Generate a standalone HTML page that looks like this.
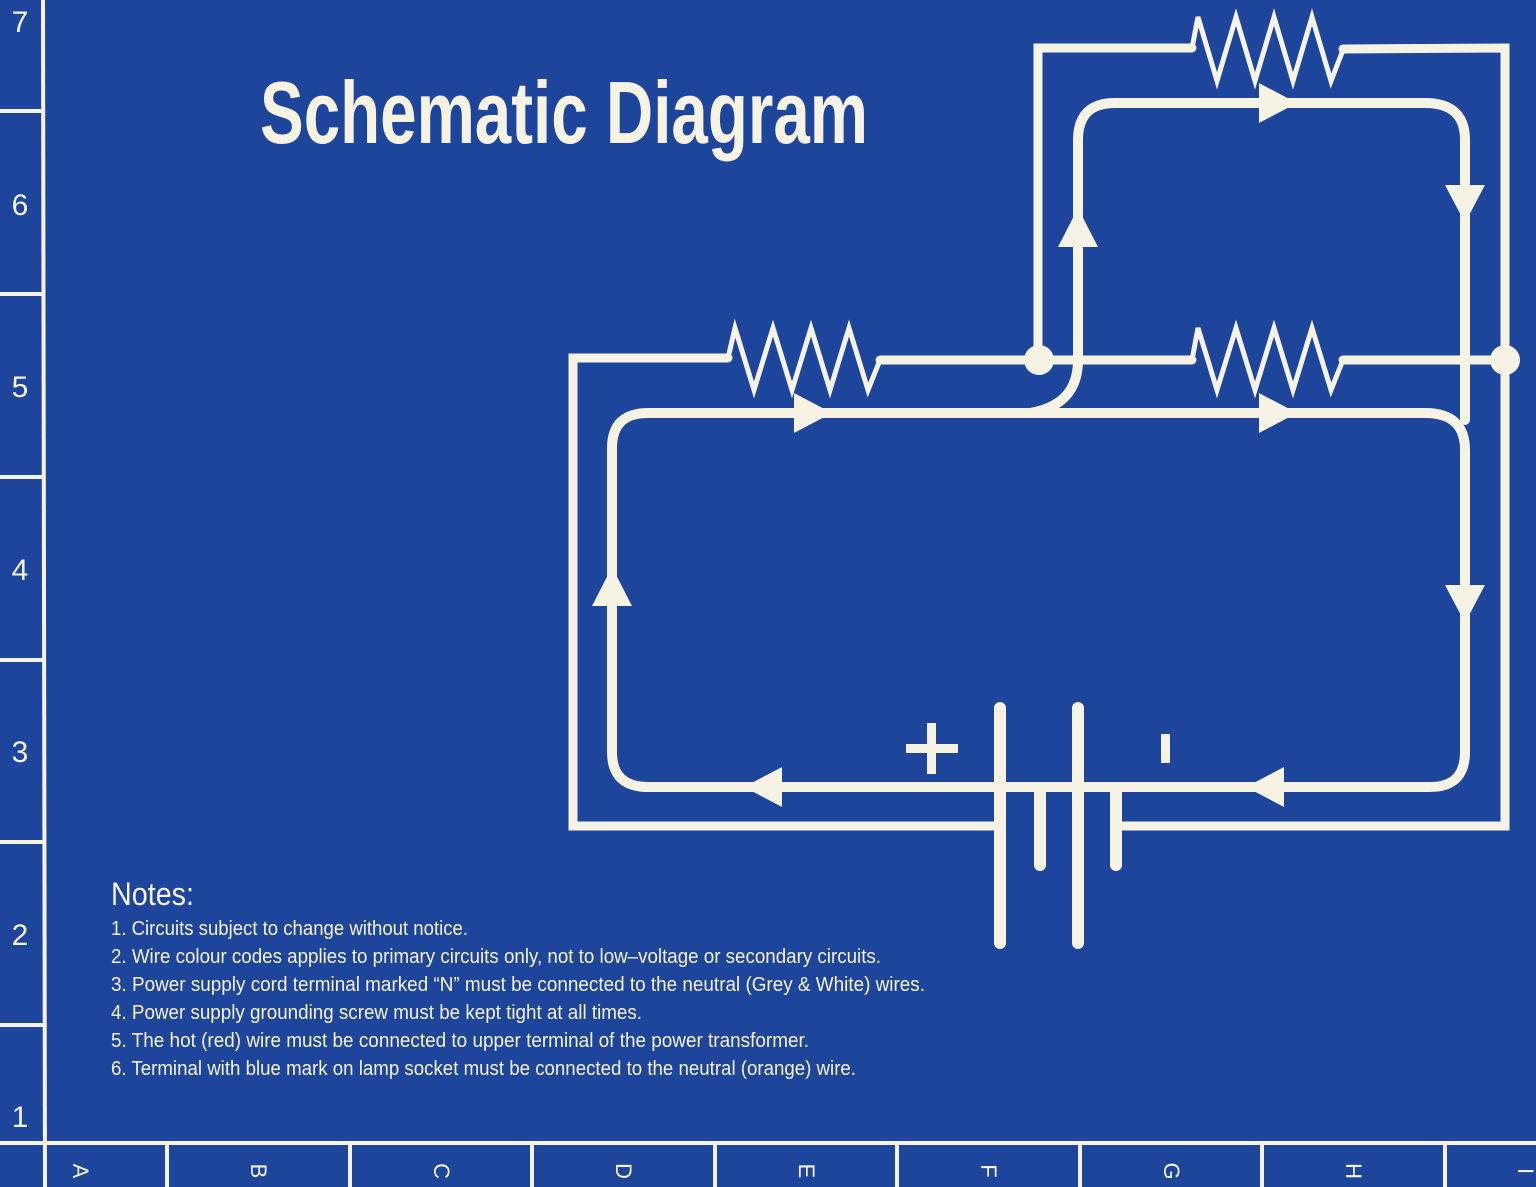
<!DOCTYPE html>
<html><head><meta charset="utf-8"><style>
html,body{margin:0;padding:0;background:#1d459c;}
svg{display:block;}
text{font-family:"Liberation Sans Narrow","Liberation Sans",sans-serif;fill:#f6f2e4;}
</style></head><body>
<svg width="1536" height="1187" viewBox="0 0 1536 1187" xmlns="http://www.w3.org/2000/svg">
<rect width="1536" height="1187" fill="#1d459c"/>
<g stroke="#f6f2e4" stroke-width="4" fill="none">
<line x1="43" y1="0" x2="45" y2="1187"/>
<line x1="0" y1="1143" x2="1536" y2="1143"/>
<line x1="0" y1="111" x2="43" y2="111"/>
<line x1="0" y1="294" x2="43" y2="294"/>
<line x1="0" y1="477" x2="43" y2="477"/>
<line x1="0" y1="660" x2="43" y2="660"/>
<line x1="0" y1="842" x2="43" y2="842"/>
<line x1="0" y1="1025" x2="43" y2="1025"/>
<line x1="167" y1="1143" x2="167" y2="1187"/>
<line x1="350" y1="1143" x2="350" y2="1187"/>
<line x1="532" y1="1143" x2="532" y2="1187"/>
<line x1="715" y1="1143" x2="715" y2="1187"/>
<line x1="897" y1="1143" x2="897" y2="1187"/>
<line x1="1080" y1="1143" x2="1080" y2="1187"/>
<line x1="1262" y1="1143" x2="1262" y2="1187"/>
<line x1="1445" y1="1143" x2="1445" y2="1187"/>
</g>
<g font-size="30">
<text x="20" y="32" text-anchor="middle">7</text>
<text x="20" y="215" text-anchor="middle">6</text>
<text x="20" y="397" text-anchor="middle">5</text>
<text x="20" y="580" text-anchor="middle">4</text>
<text x="20" y="762" text-anchor="middle">3</text>
<text x="20" y="945" text-anchor="middle">2</text>
<text x="20" y="1127" text-anchor="middle">1</text>
</g>
<g font-size="22">
<text transform="translate(80,1171) rotate(90)" text-anchor="middle" dy="7">A</text>
<text transform="translate(258,1171) rotate(90)" text-anchor="middle" dy="7">B</text>
<text transform="translate(441,1171) rotate(90)" text-anchor="middle" dy="7">C</text>
<text transform="translate(623,1171) rotate(90)" text-anchor="middle" dy="7">D</text>
<text transform="translate(806,1171) rotate(90)" text-anchor="middle" dy="7">E</text>
<text transform="translate(988,1171) rotate(90)" text-anchor="middle" dy="7">F</text>
<text transform="translate(1171,1171) rotate(90)" text-anchor="middle" dy="7">G</text>
<text transform="translate(1353,1171) rotate(90)" text-anchor="middle" dy="7">H</text>
<text transform="translate(1525,1171) rotate(90)" text-anchor="middle" dy="7">I</text>
</g>
<text x="260" y="143" font-size="88" font-weight="bold" textLength="608" lengthAdjust="spacingAndGlyphs">Schematic Diagram</text>

<g stroke="#f6f2e4" fill="none" stroke-linejoin="miter" stroke-linecap="round">
<polyline stroke-width="9" points="995,826 573,826 573,358 728,358"/>
<polyline stroke-width="5" points="728,358 735,328 754,390 773,328 792,390 811,328 830,390 849,328 868,390 880,360"/>
<line stroke-width="9" x1="880" y1="360" x2="1192" y2="360"/>
<polyline stroke-width="5" points="1192,360 1198,328 1217,390 1236,328 1255,390 1274,328 1293,390 1312,328 1331,390 1343,360"/>
<line stroke-width="9" x1="1343" y1="360" x2="1507" y2="360"/>
<polyline stroke-width="9" points="1038,360 1038,48 1192,48"/>
<polyline stroke-width="5" points="1192,48 1198,17 1217,81 1236,17 1255,81 1274,17 1293,81 1312,17 1331,81 1343,50"/>
<polyline stroke-width="9" points="1343,49 1505,48 1505,826 1122,826"/>
<path stroke-width="10" d="M995,787 L648,787 Q612,787 612,752 L612,448 Q612,413 648,413 L1425,413 Q1465,413 1465,450 L1465,752 Q1465,787 1430,787 L1120,787"/>
<path stroke-width="10" d="M1030,413 Q1078,405 1078,360 L1078,140 Q1078,103 1115,103 L1425,103 Q1465,103 1465,140 L1465,420"/>
<line stroke-width="10" x1="995" y1="787" x2="1120" y2="787"/>
<line stroke-width="12" x1="1000" y1="708" x2="1000" y2="943"/>
<line stroke-width="12" x1="1078" y1="708" x2="1078" y2="943"/>
<line stroke-width="12" x1="1040" y1="790" x2="1040" y2="865"/>
<line stroke-width="12" x1="1116" y1="790" x2="1116" y2="865"/>
</g>
<g fill="#f6f2e4">
<rect x="906" y="744" width="52" height="9"/>
<rect x="927" y="723" width="9" height="51"/>
<rect x="1161" y="734" width="9" height="29"/>
<circle cx="1039" cy="360" r="15"/>
<circle cx="1505" cy="360" r="15"/>
<polygon points="794,393 832,413 794,433"/>
<polygon points="1259,393 1297,413 1259,433"/>
<polygon points="1259,83 1297,103 1259,123"/>
<polygon points="1445,185 1485,185 1465,223"/>
<polygon points="1445,585 1485,585 1465,623"/>
<polygon points="1058,247 1098,247 1078,208"/>
<polygon points="592,606 632,606 612,567"/>
<polygon points="782,767 782,807 744,787"/>
<polygon points="1284,767 1284,807 1246,787"/>
</g>
<text x="111" y="905" font-size="32" textLength="83" lengthAdjust="spacingAndGlyphs">Notes:</text>
<g font-size="20">
<text x="111" y="935" textLength="357" lengthAdjust="spacingAndGlyphs">1. Circuits subject to change without notice.</text>
<text x="111" y="963" textLength="770" lengthAdjust="spacingAndGlyphs">2. Wire colour codes applies to primary circuits only, not to low–voltage or secondary circuits.</text>
<text x="111" y="991" textLength="814" lengthAdjust="spacingAndGlyphs">3. Power supply cord terminal marked “N” must be connected to the neutral (Grey &amp; White) wires.</text>
<text x="111" y="1019" textLength="531" lengthAdjust="spacingAndGlyphs">4. Power supply grounding screw must be kept tight at all times.</text>
<text x="111" y="1047" textLength="698" lengthAdjust="spacingAndGlyphs">5. The hot (red) wire must be connected to upper terminal of the power transformer.</text>
<text x="111" y="1075" textLength="745" lengthAdjust="spacingAndGlyphs">6. Terminal with blue mark on lamp socket must be connected to the neutral (orange) wire.</text>
</g>
</svg>
</body></html>
